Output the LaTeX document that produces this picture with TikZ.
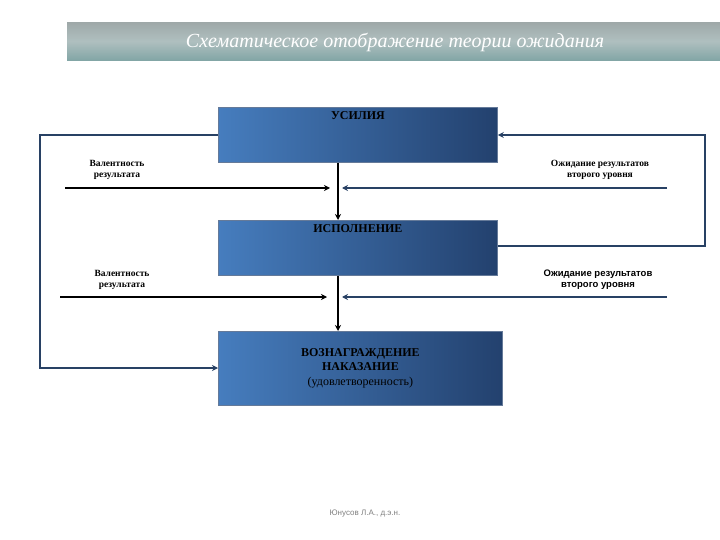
\documentclass[tikz,border=0pt]{standalone}
\usepackage{fontspec}
\setmainfont{Liberation Serif}
\newfontfamily\lsans{Liberation Sans}
\usetikzlibrary{arrows.meta}
\definecolor{bxl}{RGB}{70,125,190}
\definecolor{bxd}{RGB}{35,65,110}
\definecolor{lnb}{RGB}{40,65,100}
\tikzset{
 bx/.style={draw=bxd!70,line width=0.8pt,left color=bxl,right color=bxd,minimum width=279pt,anchor=north west,inner sep=0pt,align=center,font=\bfseries\fontsize{12}{14}\selectfont},
 ln/.style={line width=2.2pt,-{Stealth[length=6pt,width=6pt]}},
 lab/.style={font=\bfseries\fontsize{9.5}{11}\selectfont,align=center}
}
\begin{document}
\begin{tikzpicture}[x=1pt,y=-1pt]
\useasboundingbox (0,0) rectangle (720,540);
\node[anchor=north west,minimum width=653pt,minimum height=38pt,inner sep=0pt,top color=white!80!teal!40!gray,bottom color=teal!40!gray!70,middle color=teal!25!gray!50] (tb) at (67,22) {};
\node[text=white,font=\itshape\fontsize{20}{22}\selectfont] (tt) at (395,42) {Схематическое отображение теории ожидания};
\node[bx,minimum height=55pt,text depth=38pt] (b1) at (218,107) {УСИЛИЯ};
\node[bx,minimum height=55pt,text depth=38pt] (b2) at (218,220) {ИСПОЛНЕНИЕ};
\node[bx,minimum width=284pt,minimum height=74pt] (b3) at (218,331) {ВОЗНАГРАЖДЕНИЕ\\НАКАЗАНИЕ\\[1pt]{\mdseries (удовлетворенность)}};
\draw[ln] (b1.south -| 338,0) -- (b2.north -| 338,0);
\draw[ln] (b2.south -| 338,0) -- (b3.north -| 338,0);
\coordinate (l1) at (40,135); \coordinate (l2) at (40,368);
\draw[ln,draw=lnb,line width=1.8pt] (b1.west |- l1) -- (l1) -- (l2) -- (b3.west |- l2);
\coordinate (r1) at (705,246); \coordinate (r2) at (705,135);
\draw[ln,draw=lnb,line width=1.8pt] (b2.east |- r1) -- (r1) -- (r2) -- (b1.east |- r2);
\coordinate (a1) at (65,188); \coordinate (a2) at (330,188);
\coordinate (a3) at (667,188); \coordinate (a4) at (342,188);
\coordinate (c1) at (60,297); \coordinate (c2) at (327,297);
\coordinate (c3) at (667,297); \coordinate (c4) at (342,297);
\draw[ln] (a1) -- (a2);
\draw[ln,draw=lnb] (a3) -- (a4);
\draw[ln] (c1) -- (c2);
\draw[ln,draw=lnb] (c3) -- (c4);
\node[lab] (v1) at (117,170) {Валентность\\результата};
\node[lab] (o1) at (600,170) {Ожидание результатов\\второго уровня};
\node[lab] (v2) at (122,280) {Валентность\\результата};
\node[lab,font=\lsans\bfseries\fontsize{9.5}{11}\selectfont] (o2) at (598,280) {Ожидание результатов\\второго уровня};
\node[text=gray,font=\lsans\fontsize{8}{9}\selectfont] (ft) at (365,514) {Юнусов Л.А., д.э.н.};
\end{tikzpicture}
\end{document}
